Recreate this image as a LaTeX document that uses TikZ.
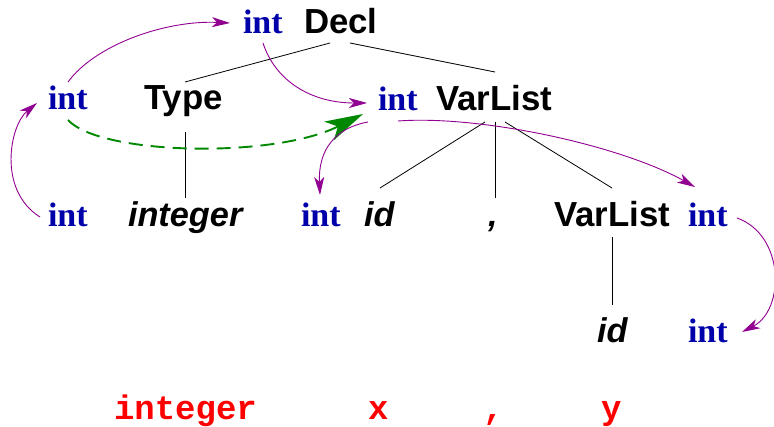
\documentclass[tikz,border=0pt]{standalone}
\usepackage{fontspec}
\setmainfont{Liberation Serif}
\newfontfamily\helvfont{Liberation Sans}
\newfontfamily\courfont{Liberation Mono}
\usetikzlibrary{arrows.meta,calc}
\definecolor{intblue}{RGB}{0,0,170}
\definecolor{arcpurple}{RGB}{145,0,145}
\definecolor{arcgreen}{RGB}{0,136,0}
\definecolor{tokred}{RGB}{255,0,0}
\tikzset{
  txt/.style={anchor=base west, inner sep=0pt, outer sep=0pt},
  intn/.style={txt, font=\bfseries\fontsize{34}{40}\selectfont, text=intblue},
  lab/.style={txt, font=\helvfont\bfseries\fontsize{34.8}{40}\selectfont, text=black},
  ilab/.style={txt, font=\helvfont\bfseries\itshape\fontsize{34.3}{40}\selectfont, text=black},
  tok/.style={txt, font=\courfont\bfseries\fontsize{34}{40}\selectfont, text=tokred},
  edge/.style={draw=black, line width=0.8pt},
  flow/.style={draw=arcpurple, line width=0.9pt, -{Stealth[length=18pt,width=10pt,inset=5pt]}},
  copyarc/.style={draw=arcgreen, line width=1.9pt, dash pattern=on 14pt off 8pt, -{Stealth[length=38pt,width=21pt,inset=10pt]}}
}
\begin{document}
\begin{tikzpicture}[x=1pt,y=-1pt]
\useasboundingbox (0,0) rectangle (774,427);
% nodes
\node[intn] (i1) at (243,34) {int};
\node[lab]  (decl) at (304,34) {Decl};
\node[intn] (i2) at (48,110) {int};
\node[lab]  (type) at (144,110) {Type};
\node[intn] (i3) at (378,111) {int};
\node[lab]  (vl1) at (436,111) {VarList};
\node[intn] (i4) at (48,227) {int};
\node[ilab] (integ) at (128,227) {integer};
\node[intn] (i5) at (301,227) {int};
\node[ilab] (id1) at (364,227) {id};
\node[ilab] (comma) at (488,227) {,};
\node[lab]  (vl2) at (554,227) {VarList};
\node[intn] (i6) at (688,227) {int};
\node[ilab] (id2) at (597,343) {id};
\node[intn] (i7) at (688,343) {int};
\node[tok] (r1) at (114,420) {integer};
\node[tok] (r2) at (368,420) {x};
\node[tok] (r3) at (483,420) {,};
\node[tok] (r4) at (601,420) {y};
% tree edges
\draw[edge] ($(decl.base west)+(26,9)$) -- ($(type.base west)+(41,-28)$);
\draw[edge] ($(decl.base west)+(46,9)$) -- ($(vl1.base west)+(59,-39)$);
\draw[edge] ($(type.base west)+(41,22)$) -- ($(integ.base west)+(57,-29)$);
\draw[edge] ($(vl1.base west)+(49,11)$) -- ($(id1.base west)+(16,-39)$);
\draw[edge] ($(vl1.base west)+(59,11)$) -- ($(comma.base west)+(7,-29)$);
\draw[edge] ($(vl1.base west)+(69,11)$) -- ($(vl2.base west)+(58,-39)$);
\draw[edge] ($(vl2.base west)+(58,10)$) -- ($(id2.base west)+(15,-38)$);
% attribute flow
\draw[flow] ($(i4.base west)+(-8,-10)$) .. controls +(-43,-27) and +(-27,22) .. ($(i2.base west)+(-11,-7)$);
\draw[flow] ($(i2.base west)+(20,-28)$) .. controls +(27,-37) and +(-65,-3) .. ($(i1.base west)+(-13,-11)$);
\draw[flow] ($(i1.base west)+(20,9)$) .. controls +(12,37) and +(-57,0) .. ($(i3.base west)+(-11,-8)$);
\draw[copyarc] ($(i2.base west)+(20,10)$) .. controls +(32,35) and +(-90,45) .. ($(i3.base west)+(-15,3)$);
\draw[flow] ($(i3.base west)+(-10,11)$) .. controls +(-33,6) and +(-2,-45) .. ($(i5.base west)+(19,-32)$);
\draw[flow] ($(i3.base west)+(20,10)$) .. controls +(82,-6) and +(-75,-42) .. ($(i6.base west)+(7,-40)$);
\draw[flow] ($(i6.base west)+(49,-9)$) .. controls +(48,17) and +(43,-22) .. ($(i7.base west)+(54,-11)$);
\end{tikzpicture}
\end{document}
